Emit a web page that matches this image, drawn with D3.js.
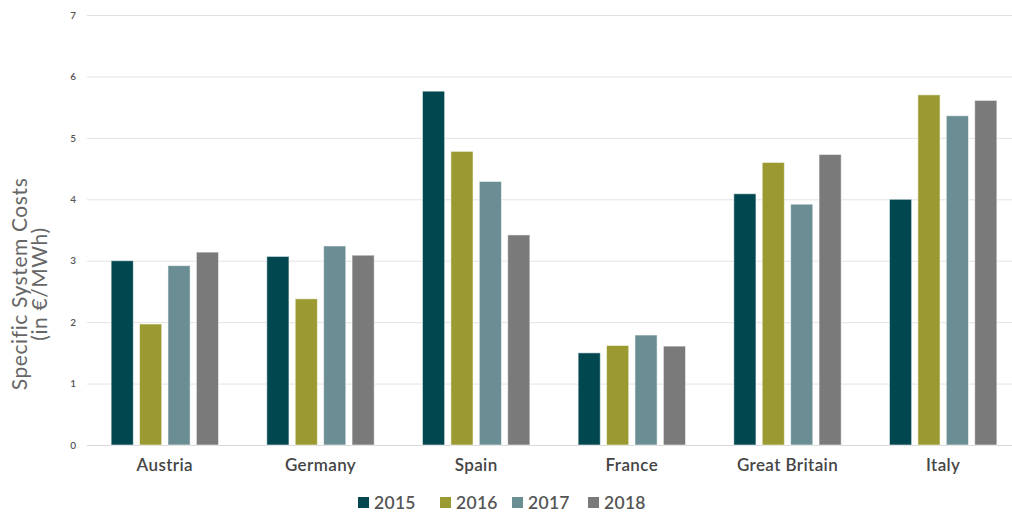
<!DOCTYPE html>
<html>
<head>
<meta charset="utf-8">
<script src="https://cdn.jsdelivr.net/npm/d3@7"></script>
<style>
  html, body { margin: 0; padding: 0; background: #fff; }
  svg { display: block; }
</style>
</head>
<body>
<svg id="chart" width="1012" height="513"></svg>
<script>
// Specific system costs (€/MWh) by country and year
const countries = ["Austria", "Germany", "Spain", "France", "Great Britain", "Italy"];
const years = ["2015", "2016", "2017", "2018"];
const values2015 = [3.00, 3.07, 5.76, 1.50, 4.09, 4.00];
const values2016 = [1.97, 2.38, 4.78, 1.62, 4.60, 5.70];
const values2017 = [2.92, 3.24, 4.29, 1.79, 3.92, 5.36];
const values2018 = [3.14, 3.09, 3.42, 1.61, 4.73, 5.61];
const yTicks = [0, 1, 2, 3, 4, 5, 6, 7];
const yTitle = ["Specific System Costs", "(in €/MWh)"];

const seriesValues = [values2015, values2016, values2017, values2018];
const colors = ["#004750", "#9a9a30", "#6a8e93", "#7a7a7a"];

const svg = d3.select("#chart");
const W = 1012;
const font = "Lato, 'Noto Sans', sans-serif";

const x0 = d3.scaleBand().domain(countries).range([87, 1021]).paddingInner(0.31).paddingOuter(0.155);
const x1 = d3.scaleBand().domain(years).range([0, x0.bandwidth()]).paddingInner(0.22).paddingOuter(0);
const y = d3.scaleLinear().domain([0, 7]).range([445, 15]);

// gridlines
svg.append("g")
  .selectAll("line")
  .data(yTicks)
  .join("line")
  .attr("x1", 87).attr("x2", W)
  .attr("y1", d => y(d) + 0.5).attr("y2", d => y(d) + 0.5)
  .attr("stroke", d => d === 0 ? "#d9d9d9" : "#e3e3e3")
  .attr("stroke-width", 1);

// y axis tick labels
const yAxis = d3.axisLeft(y).tickValues(yTicks).tickFormat(d3.format("d")).tickSize(0).tickPadding(0);
const gy = svg.append("g").attr("transform", "translate(76,0)").call(yAxis);
gy.select(".domain").remove();
gy.selectAll("text")
  .attr("font-family", font)
  .attr("font-size", 10)
  .attr("font-weight", 600)
  .attr("fill", "#555");

// y axis title
const title = svg.append("text")
  .attr("transform", "translate(0,284) rotate(-90)")
  .attr("text-anchor", "middle")
  .attr("font-family", font)
  .attr("font-size", 21)
  .attr("letter-spacing", 0.6)
  .attr("fill", "#666");
title.append("tspan").attr("x", 0).attr("y", 27).text(yTitle[0]);
title.append("tspan").attr("x", 0).attr("y", 47).text(yTitle[1]);

// bars
const groups = svg.append("g")
  .selectAll("g")
  .data(countries)
  .join("g")
  .attr("transform", d => `translate(${x0(d)},0)`);

groups.selectAll("rect")
  .data((c, i) => years.map((yr, k) => ({ yr, k, v: seriesValues[k][i] })))
  .join("rect")
  .attr("x", d => x1(d.yr))
  .attr("width", x1.bandwidth())
  .attr("y", d => y(d.v))
  .attr("height", d => y(0) - y(d.v))
  .attr("fill", d => colors[d.k])
  .attr("stroke", "rgba(255,255,255,0.55)")
  .attr("stroke-width", 1);

// category labels
const xAxis = d3.axisBottom(x0).tickSize(0).tickPadding(0);
const gx = svg.append("g").attr("transform", "translate(0,458)").call(xAxis);
gx.select(".domain").remove();
gx.selectAll("text")
  .attr("dy", "0.75em")
  .attr("font-family", font)
  .attr("font-size", 17)
  .attr("font-weight", 600)
  .attr("letter-spacing", 0.4)
  .attr("fill", "#454545");

// legend
const legendX = [358, 440, 512, 588];
const legend = svg.append("g")
  .selectAll("g")
  .data(years)
  .join("g")
  .attr("transform", (d, i) => `translate(${legendX[i]},497)`);
legend.append("rect")
  .attr("width", 11).attr("height", 11)
  .attr("fill", (d, i) => colors[i]);
legend.append("text")
  .attr("x", 16).attr("y", 11.5)
  .attr("font-family", font)
  .attr("font-size", 17.5)
  .attr("font-weight", 600)
  .attr("letter-spacing", 0.3)
  .attr("fill", "#555")
  .text(d => d);
</script>
</body>
</html>
